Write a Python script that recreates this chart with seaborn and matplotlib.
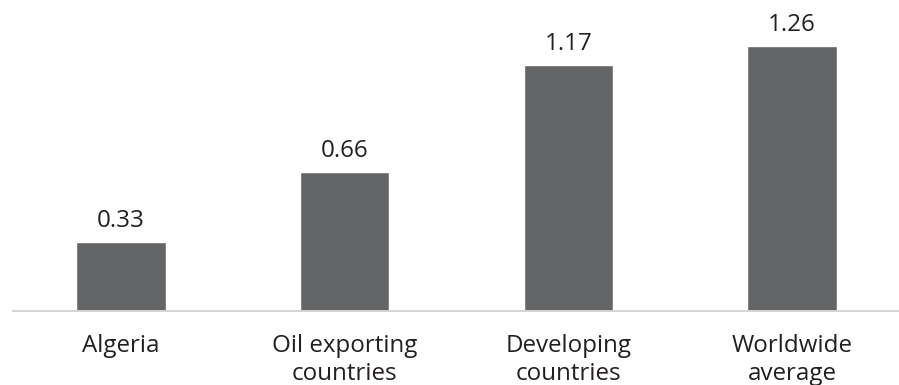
import matplotlib
matplotlib.use("Agg")
import matplotlib.pyplot as plt
import seaborn as sns
import pandas as pd

categories = ["Algeria", "Oil exporting\ncountries", "Developing\ncountries", "Worldwide\naverage"]
values = [0.33, 0.66, 1.17, 1.26]
value_labels = ["0.33", "0.66", "1.17", "1.26"]

sns.set_theme(style="white")
plt.rcParams['font.family'] = ['Open Sans', 'DejaVu Sans']

df = pd.DataFrame({"category": categories, "value": values})

fig = plt.figure(figsize=(8.99, 3.85), dpi=100)
ax = fig.add_axes([13 / 899, 74 / 385, 886 / 899, 311 / 385])

sns.barplot(data=df, x="category", y="value", color="#646567", saturation=1,
            width=0.40, ax=ax)

ax.bar_label(ax.containers[0], labels=value_labels, padding=6.5,
             fontsize=17.4, color="#231f20")

ax.set_xlim(-0.482, 3.478)
ax.set_ylim(0, 1.478)
ax.set_xlabel("")
ax.set_ylabel("")
ax.set_yticks([])
ax.tick_params(axis="x", length=0, pad=16.5, labelsize=17.4, labelcolor="#231f20")

for s in ["top", "right", "left"]:
    ax.spines[s].set_visible(False)
ax.spines["bottom"].set_color("#d4d4d4")
ax.spines["bottom"].set_linewidth(1.4)

fig.savefig("out.png", dpi=100)
